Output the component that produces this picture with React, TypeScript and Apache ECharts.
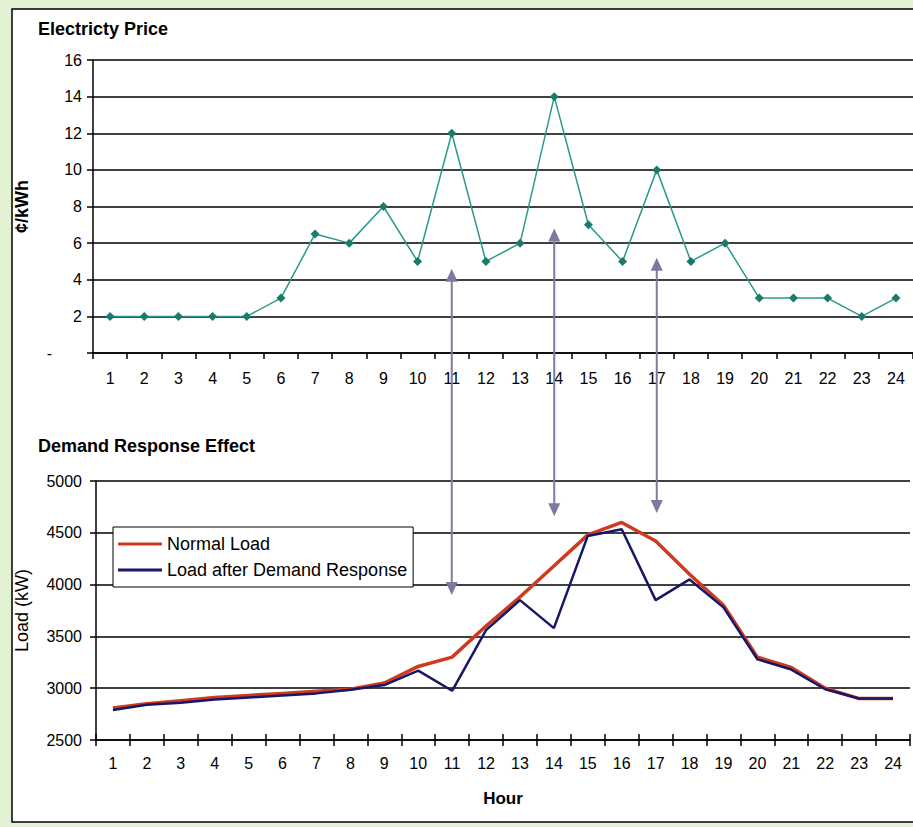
import React, { useEffect, useRef } from "react";
import * as echarts from "echarts";

const hours = ["1","2","3","4","5","6","7","8","9","10","11","12","13","14","15","16","17","18","19","20","21","22","23","24"];
const priceValues = [2, 2, 2, 2, 2, 3, 6.5, 6, 8, 5, 12, 5, 6, 14, 7, 5, 10, 5, 6, 3, 3, 3, 2, 3];
const normalLoad = [2810, 2850, 2880, 2910, 2930, 2950, 2970, 2990, 3050, 3210, 3300, 3600, 3880, 4180, 4480, 4600, 4420, 4100, 3800, 3300, 3200, 3000, 2900, 2900];
const drLoad = [2790, 2840, 2860, 2890, 2910, 2930, 2950, 2985, 3030, 3170, 2975, 3560, 3850, 3580, 4470, 4535, 3850, 4050, 3780, 3280, 3180, 2990, 2900, 2900];
const priceTicks = { min: 0, max: 16, interval: 2 };
const loadTicks = { min: 2500, max: 5000, interval: 500 };
const arrowHours = ["11", "14", "17"];
const arrowPriceEnds = [4.6, 6.8, 5.2];
const arrowLoadEnds = [3900, 4660, 4690];

const FONT = "Liberation Sans, Arial, sans-serif";

export default function App() {
  const ref = useRef<HTMLDivElement>(null);
  useEffect(() => {
    if (!ref.current) return;
    const chart = echarts.init(ref.current, undefined, { renderer: "svg" });
    const labelStyle = { color: "#000", fontSize: 16, fontFamily: FONT };
    chart.setOption({
      animation: false,
      backgroundColor: "transparent",
      textStyle: { fontFamily: FONT },
      title: [
        { text: "Electricty Price", left: 38, top: 20, padding: 0, textStyle: { fontSize: 18, fontWeight: "bold", color: "#000", fontFamily: FONT } },
        { text: "Demand Response Effect", left: 38, top: 437, padding: 0, textStyle: { fontSize: 18, fontWeight: "bold", color: "#000", fontFamily: FONT } },
      ],
      grid: [
        { left: 93, top: 60, width: 821, height: 293 },
        { left: 96, top: 481, width: 814, height: 259 },
      ],
      legend: {
        data: ["Normal Load", "Load after Demand Response"],
        orient: "vertical",
        left: 113,
        top: 527,
        padding: [8, 6, 8, 5],
        itemGap: 8,
        itemWidth: 44,
        itemHeight: 3,
        icon: "rect",
        borderColor: "#000",
        borderWidth: 1,
        backgroundColor: "#fff",
        textStyle: { fontSize: 18, color: "#000", fontFamily: FONT },
      },
      xAxis: [
        {
          type: "category", gridIndex: 0, data: hours, boundaryGap: true, position: "bottom",
          axisLine: { lineStyle: { color: "#000", width: 1.5 } },
          axisTick: { show: true, length: 6, lineStyle: { color: "#000", width: 1.5 } },
          axisLabel: { ...labelStyle, margin: 17, interval: 0 },
          splitLine: { show: false },
        },
        {
          type: "category", gridIndex: 1, data: hours, boundaryGap: true, position: "bottom",
          name: "Hour", nameLocation: "middle", nameGap: 50,
          nameTextStyle: { fontSize: 17, fontWeight: "bold", color: "#000", fontFamily: FONT },
          axisLine: { lineStyle: { color: "#000", width: 1.5 } },
          axisTick: { show: true, length: 6, lineStyle: { color: "#000", width: 1.5 } },
          axisLabel: { ...labelStyle, margin: 15, interval: 0 },
          splitLine: { show: false },
        },
        {
          type: "category", gridIndex: 1, data: hours, boundaryGap: true, position: "bottom",
          axisLine: { show: false },
          axisTick: { show: true, inside: true, length: 6, lineStyle: { color: "#000", width: 1.5 } },
          axisLabel: { show: false },
          splitLine: { show: false },
        },
      ],
      yAxis: [
        {
          type: "value", gridIndex: 0, ...priceTicks,
          name: "¢/kWh", nameLocation: "middle", nameGap: 62, nameRotate: 90,
          nameTextStyle: { fontSize: 18, fontWeight: "bold", color: "#000", fontFamily: FONT },
          axisLine: { show: true, lineStyle: { color: "#000", width: 1.5 } },
          axisTick: { show: true, length: 6, lineStyle: { color: "#000", width: 1.5 } },
          axisLabel: {
            ...labelStyle, margin: 11,
            formatter: (v: number) => (v === 0 ? "{d|-}" : String(v)),
            rich: { d: { fontSize: 16, color: "#000", padding: [0, 30, 0, 0], fontFamily: FONT } },
          },
          splitLine: { show: true, lineStyle: { color: "#000", width: 1.5 } },
        },
        {
          type: "value", gridIndex: 1, ...loadTicks,
          name: "Load (kW)", nameLocation: "middle", nameGap: 65, nameRotate: 90,
          nameTextStyle: { fontSize: 18, color: "#000", fontFamily: FONT },
          axisLine: { show: true, lineStyle: { color: "#000", width: 1.5 } },
          axisTick: { show: true, length: 6, lineStyle: { color: "#000", width: 1.5 } },
          axisLabel: { ...labelStyle, margin: 14, formatter: (v: number) => String(v) },
          splitLine: { show: true, lineStyle: { color: "#000", width: 1.5 } },
        },
      ],
      series: [
        {
          name: "Electricity Price", type: "line", xAxisIndex: 0, yAxisIndex: 0, data: priceValues,
          symbol: "diamond", symbolSize: 9, showSymbol: true,
          lineStyle: { color: "#2a9a8a", width: 1.5 },
          itemStyle: { color: "#1b7a6c" },
        },
        {
          name: "Normal Load", type: "line", xAxisIndex: 1, yAxisIndex: 1, data: normalLoad,
          symbol: "none", lineStyle: { color: "#cf3a1e", width: 3.5 }, itemStyle: { color: "#cf3a1e" },
        },
        {
          name: "Load after Demand Response", type: "line", xAxisIndex: 1, yAxisIndex: 1, data: drLoad,
          symbol: "none", lineStyle: { color: "#16166a", width: 2.5 }, itemStyle: { color: "#16166a" },
        },
      ],
    });

    const arrowColor = "#7b7b9d";
    const graphics: any[] = [
      {
        type: "rect", z: -100, silent: true,
        shape: { x: 12, y: 9, width: 930, height: 813 },
        style: { fill: "#fff", stroke: "#000", lineWidth: 1.5 },
      },
    ];
    arrowHours.forEach((h, i) => {
      const x = chart.convertToPixel({ xAxisIndex: 0 }, h) as number;
      const yTop = chart.convertToPixel({ yAxisIndex: 0 }, arrowPriceEnds[i]) as number;
      const yBot = chart.convertToPixel({ yAxisIndex: 1 }, arrowLoadEnds[i]) as number;
      graphics.push({
        type: "line", z: 100, silent: true,
        shape: { x1: x, y1: yTop + 10, x2: x, y2: yBot - 10 },
        style: { stroke: arrowColor, lineWidth: 2 },
      });
      graphics.push({
        type: "polygon", z: 100, silent: true,
        shape: { points: [[x, yTop], [x - 6, yTop + 13], [x + 6, yTop + 13]] },
        style: { fill: arrowColor },
      });
      graphics.push({
        type: "polygon", z: 100, silent: true,
        shape: { points: [[x, yBot], [x - 6, yBot - 13], [x + 6, yBot - 13]] },
        style: { fill: arrowColor },
      });
    });
    chart.setOption({ graphic: graphics });

    return () => chart.dispose();
  }, []);

  return (
    <div
      style={{ position: "fixed", left: 0, top: 0, width: 913, height: 827, background: "#e4f2d4" }}
    >
      <div ref={ref} style={{ width: 913, height: 827 }} />
    </div>
  );
}
